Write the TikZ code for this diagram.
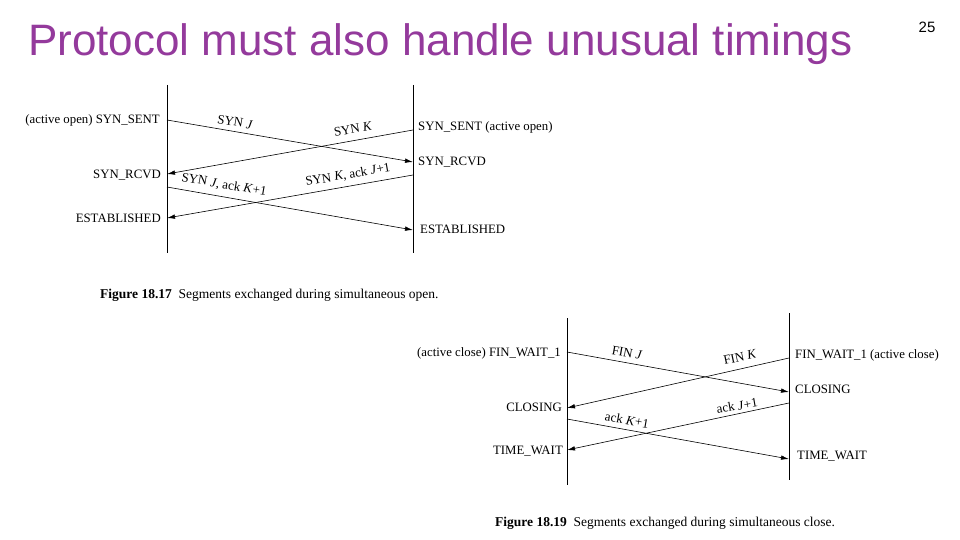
\documentclass[tikz,border=0pt]{standalone}
\usepackage{fontspec}
\setmainfont{Liberation Serif}
\newfontfamily\arialf{Liberation Sans}
\usetikzlibrary{arrows.meta}
\definecolor{ttl}{HTML}{943A9C}
\tikzset{
  msg/.style={-{Latex[length=8pt,width=4.5pt]},line width=0.6pt},
  life/.style={line width=0.9pt},
  st/.style={font=\fontsize{12.8}{15}\selectfont,inner sep=1pt},
  lab/.style={font=\fontsize{13}{15}\selectfont,inner sep=0pt},
  figcap/.style={font=\fontsize{13.5}{15}\selectfont,anchor=west,inner sep=0pt}
}
\begin{document}
\begin{tikzpicture}[x=1pt,y=-1pt]
\useasboundingbox (0,0) rectangle (960,540);
\node[anchor=west,text=ttl,font=\arialf\fontsize{44}{46}\selectfont,inner sep=0pt] (title) at (28,44) {Protocol must also handle unusual timings};
\node[font=\arialf\fontsize{15}{16}\selectfont,inner sep=0pt] (pg) at (927,27) {25};
% figure 1
\coordinate (l1t) at (167,85); \coordinate (l1b) at (167,253);
\coordinate (r1t) at (413,85); \coordinate (r1b) at (413,253);
\draw[life] (l1t)--(l1b); \draw[life] (r1t)--(r1b);
\coordinate (a1) at (167,120); \coordinate (a2) at (413,162);
\coordinate (b1) at (413,130); \coordinate (b2) at (167,174);
\coordinate (c1) at (167,187); \coordinate (c2) at (413,230);
\coordinate (d1) at (413,175); \coordinate (d2) at (167,218);
\draw[msg] (a1)--(a2); \draw[msg] (b1)--(b2);
\draw[msg] (c1)--(c2); \draw[msg] (d1)--(d2);
\node[st,anchor=east] (s1) at (161,120) {(active open) SYN\_SENT};
\node[st,anchor=west] (s2) at (417,127) {SYN\_SENT (active open)};
\node[st,anchor=east] (s3) at (162,175) {SYN\_RCVD};
\node[st,anchor=west] (s4) at (417,162) {SYN\_RCVD};
\node[st,anchor=east] (s5) at (162,218) {ESTABLISHED};
\node[st,anchor=west] (s6) at (419,229) {ESTABLISHED};
\node[lab,rotate=-10] (m1) at (235,122) {SYN \textit{J}};
\node[lab,rotate=10] (m2) at (353,129) {SYN \textit{K}};
\node[lab,rotate=-10] (m3) at (224,185) {SYN \textit{J}, ack \textit{K}+1};
\node[lab,rotate=10] (m4) at (348,175) {SYN \textit{K}, ack \textit{J}+1};
\node[figcap] (cap1) at (100,295) {\textbf{Figure 18.17}\enspace Segments exchanged during simultaneous open.};
% figure 2
\coordinate (l2t) at (567,318); \coordinate (l2b) at (567,485);
\coordinate (r2t) at (789,313); \coordinate (r2b) at (789,480);
\draw[life] (l2t)--(l2b); \draw[life] (r2t)--(r2b);
\coordinate (e1) at (567,352); \coordinate (e2) at (789,392);
\coordinate (f1) at (789,358); \coordinate (f2) at (567,408);
\coordinate (g1) at (567,419); \coordinate (g2) at (789,459);
\coordinate (h1) at (789,403); \coordinate (h2) at (567,450);
\draw[msg] (e1)--(e2); \draw[msg] (f1)--(f2);
\draw[msg] (g1)--(g2); \draw[msg] (h1)--(h2);
\node[st,anchor=east] (t1) at (562,353) {(active close) FIN\_WAIT\_1};
\node[st,anchor=west] (t2) at (794,355) {FIN\_WAIT\_1 (active close)};
\node[st,anchor=east] (t3) at (563,407) {CLOSING};
\node[st,anchor=west] (t4) at (794,389) {CLOSING};
\node[st,anchor=east] (t5) at (564,451) {TIME\_WAIT};
\node[st,anchor=west] (t6) at (796,456) {TIME\_WAIT};
\node[lab,rotate=-10] (n1) at (627,353) {FIN \textit{J}};
\node[lab,rotate=12] (n2) at (740,357) {FIN \textit{K}};
\node[lab,rotate=-10] (n3) at (627,420) {ack \textit{K}+1};
\node[lab,rotate=10] (n4) at (737,406) {ack \textit{J}+1};
\node[figcap] (cap2) at (495,523) {\textbf{Figure 18.19}\enspace Segments exchanged during simultaneous close.};
\end{tikzpicture}
\end{document}
